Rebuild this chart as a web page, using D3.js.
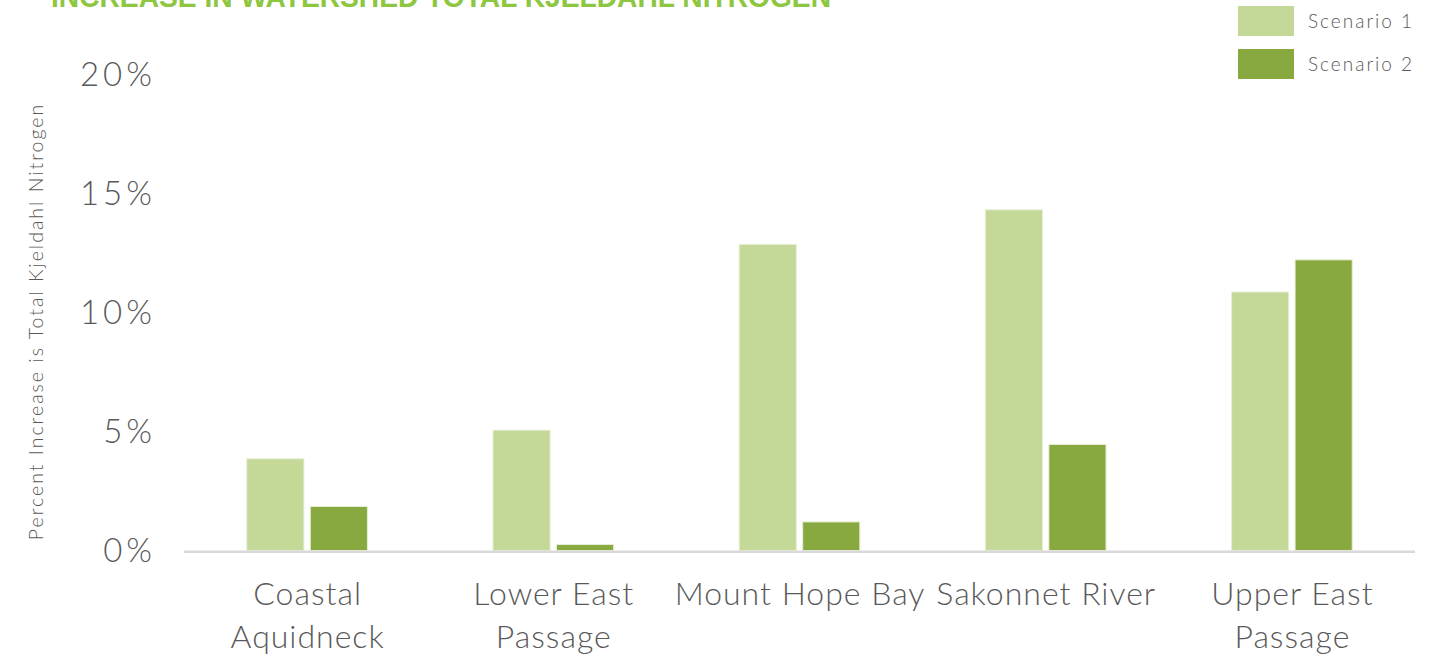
<!DOCTYPE html>
<html><head><meta charset="utf-8">
<script src="https://cdn.jsdelivr.net/npm/d3@7"></script>
<style>
html,body{margin:0;padding:0;background:#fff;}
svg{display:block;}
</style></head>
<body>
<svg id="chart" width="1454" height="658"></svg>
<script>
const categories = [["Coastal","Aquidneck"],["Lower East","Passage"],["Mount Hope Bay"],["Sakonnet River"],["Upper East","Passage"]];
const seriesNames = ["Scenario 1","Scenario 2"];
const scenario1 = [3.85, 5.05, 12.85, 14.3, 10.85];
const scenario2 = [1.85, 0.25, 1.2, 4.45, 12.2];
const yTicks = [0, 5, 10, 15, 20];
const colors = ["#c4d998","#87a940"];
const titleText = "INCREASE IN WATERSHED TOTAL KJELDAHL NITROGEN";
const yTitle = "Percent Increase is Total Kjeldahl Nitrogen";

const svg = d3.select("#chart");
const plotLeft = 184, plotRight = 1415, plotTop = 74, plotBottom = 550.5;
const catKeys = categories.map(c => c.join(" "));
const x0 = d3.scaleBand().domain(catKeys).range([plotLeft, plotRight]).paddingInner(0.51).paddingOuter(0.255);
const x1 = d3.scaleBand().domain(seriesNames).range([0, x0.bandwidth()]).paddingInner(0.1);
const y = d3.scaleLinear().domain([0, 20]).range([plotBottom, plotTop]);
const font = "Lato, 'Open Sans', sans-serif";
const grey = "#595959";

// title (cut off at top, as in the source)
svg.append("text").attr("x", 51).attr("y", 7)
  .attr("font-family", "'Liberation Sans Narrow', 'Arial Narrow', sans-serif")
  .attr("font-weight", "bold").attr("font-size", 30)
  .attr("fill", "#8dc63f")
  .attr("textLength", 780).attr("lengthAdjust", "spacingAndGlyphs")
  .text(titleText);

// y tick labels
svg.append("g").selectAll("text").data(yTicks).join("text")
  .attr("x", 156).attr("y", d => y(d)).attr("dy", "0.36em")
  .attr("text-anchor", "end")
  .attr("font-family", font).attr("font-weight", 300).attr("font-size", 33)
  .attr("letter-spacing", 4)
  .attr("fill", grey)
  .text(d => d + "%");

// y title
svg.append("text")
  .attr("transform", `translate(43,${(100+543)/2}) rotate(-90)`)
  .attr("text-anchor", "middle")
  .attr("font-family", font).attr("font-weight", 300).attr("font-size", 19.5)
  .attr("letter-spacing", 2)
  .attr("fill", grey)
  .text(yTitle);

// bars
const data = catKeys.map((k, i) => ({key: k, vals: [scenario1[i], scenario2[i]]}));
const groups = svg.append("g").selectAll("g").data(data).join("g")
  .attr("transform", d => `translate(${x0(d.key)},0)`);
groups.selectAll("rect").data(d => d.vals.map((v, j) => ({s: seriesNames[j], v, j}))).join("rect")
  .attr("x", d => x1(d.s)).attr("width", x1.bandwidth())
  .attr("y", d => y(d.v)).attr("height", d => y(0) - y(d.v))
  .attr("fill", d => colors[d.j])
  .attr("stroke", "#e6efd6").attr("stroke-width", 1);

// axis baseline
svg.append("line").attr("x1", plotLeft).attr("x2", plotRight)
  .attr("y1", y(0) + 1.2).attr("y2", y(0) + 1.2)
  .attr("stroke", "#d9d9d9").attr("stroke-width", 2.6);

// category labels
const labs = svg.append("g").selectAll("text").data(categories).join("text")
  .attr("text-anchor", "middle")
  .attr("font-family", font).attr("font-weight", 300).attr("font-size", 32)
  .attr("letter-spacing", 1)
  .attr("fill", grey)
  .attr("transform", (d, i) => `translate(${x0(catKeys[i]) + x0.bandwidth()/2 + 0.5},605)`);
labs.selectAll("tspan").data(d => d).join("tspan")
  .attr("x", 0).attr("y", (d, i) => i * 43)
  .text(d => d);

// legend
const lg = svg.append("g");
seriesNames.forEach((s, i) => {
  lg.append("rect").attr("x", 1238).attr("y", 6 + i * 43).attr("width", 56).attr("height", 30)
    .attr("fill", colors[i]);
  lg.append("text").attr("x", 1308).attr("y", 21 + i * 43).attr("dy", "0.36em")
    .attr("font-family", font).attr("font-weight", 300).attr("font-size", 19)
    .attr("letter-spacing", 2).attr("fill", grey).text(s);
});
</script>
</body></html>
